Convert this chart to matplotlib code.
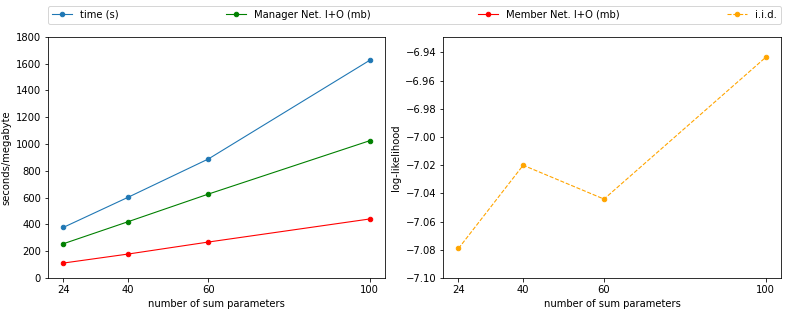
import matplotlib
matplotlib.use("Agg")
import matplotlib.pyplot as plt

# data
params = [24, 40, 60, 100]
time_s = [378, 602, 889, 1625]
manager_io = [256, 420, 627, 1025]
member_io = [112, 179, 269, 441]
iid_ll = [-7.079, -7.020, -7.044, -6.9435]

# drawn at dpi 72 so default sizes come out like a scaled-down figure
fig = plt.figure(figsize=(797 / 72, 310 / 72), dpi=72)
ax1 = fig.add_axes([0.0602, 0.103, 0.4228, 0.778])
ax2 = fig.add_axes([0.556, 0.103, 0.424, 0.778])

style = dict(marker="o", markersize=4.5, lw=1.1)
h1, = ax1.plot(params, time_s, color="tab:blue", label="time (s)", **style)
h2, = ax1.plot(params, manager_io, color="green", label="Manager Net. I+O (mb)", **style)
h3, = ax1.plot(params, member_io, color="red", label="Member Net. I+O (mb)", **style)
ax1.set_xticks(params)
ax1.set_ylim(0, 1800)
ax1.set_yticks(range(0, 1801, 200))
ax1.set_xlabel("number of sum parameters")
ax1.set_ylabel("seconds/megabyte")

h4, = ax2.plot(params, iid_ll, ls="--", color="orange", label="i.i.d.", **style)
ax2.set_xticks(params)
ax2.set_ylim(-7.10, -6.929)
ax2.set_yticks([-7.10, -7.08, -7.06, -7.04, -7.02, -7.00, -6.98, -6.96, -6.94])
ax2.set_xlabel("number of sum parameters")
ax2.set_ylabel("log-likelihood")

fig.legend(handles=[h1, h2, h3, h4], loc="lower left", ncol=4, mode="expand",
           bbox_to_anchor=(0.0602, 0.923, 0.9198, 0.058), borderaxespad=0)

plt.savefig("out.png", dpi=72)
